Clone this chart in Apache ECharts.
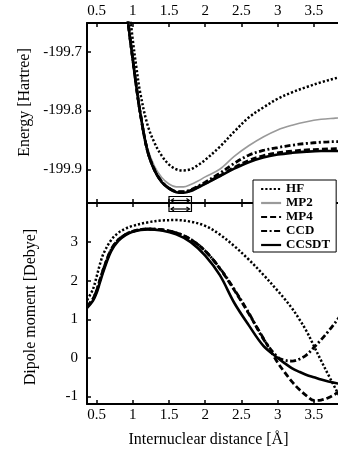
<!DOCTYPE html>
<html><head><meta charset="utf-8">
<script src="https://cdn.jsdelivr.net/npm/echarts@6/dist/echarts.min.js"></script>
<style>html,body{margin:0;padding:0;background:#fff}#c{width:338px;height:449px}</style>
</head><body><div id="c"></div>
<script>
// ---- data ----
var seriesNames = ['HF', 'MP2', 'MP4', 'CCD', 'CCSDT'];
var xTicks = [0.5, 1, 1.5, 2, 2.5, 3, 3.5];
var energyTicks = [-199.9, -199.8, -199.7];
var dipoleTicks = [-1, 0, 1, 2, 3];

var xEnergy = [0.9, 0.95, 1.0, 1.05, 1.1, 1.2, 1.3, 1.4, 1.5, 1.6, 1.7, 1.8, 1.9, 2.0, 2.2, 2.4, 2.6, 2.8, 3.0, 3.2, 3.4, 3.6, 3.8, 3.9];
var eHF    = [-199.575, -199.625, -199.680, -199.727, -199.768, -199.823, -199.855, -199.877, -199.892, -199.900, -199.902, -199.900, -199.893, -199.884, -199.862, -199.836, -199.812, -199.795, -199.780, -199.769, -199.760, -199.752, -199.745, -199.742];
var eMP2   = [-199.605, -199.660, -199.709, -199.756, -199.798, -199.862, -199.895, -199.914, -199.925, -199.930, -199.930, -199.926, -199.920, -199.913, -199.900, -199.878, -199.860, -199.845, -199.833, -199.825, -199.819, -199.815, -199.813, -199.812];
var eMP4   = [-199.610, -199.665, -199.713, -199.760, -199.802, -199.867, -199.901, -199.921, -199.932, -199.938, -199.939, -199.936, -199.930, -199.924, -199.911, -199.897, -199.885, -199.877, -199.872, -199.869, -199.867, -199.866, -199.865, -199.865];
var eCCD   = [-199.610, -199.665, -199.713, -199.760, -199.802, -199.867, -199.901, -199.921, -199.932, -199.938, -199.938, -199.935, -199.929, -199.922, -199.907, -199.890, -199.876, -199.868, -199.863, -199.859, -199.856, -199.854, -199.853, -199.853];
var eCCSDT = [-199.610, -199.665, -199.713, -199.760, -199.802, -199.868, -199.902, -199.922, -199.933, -199.939, -199.940, -199.937, -199.931, -199.925, -199.912, -199.899, -199.888, -199.880, -199.875, -199.872, -199.870, -199.869, -199.869, -199.869];

var xDipole = [0.37, 0.45, 0.5, 0.55, 0.6, 0.7, 0.8, 0.9, 1.0, 1.2, 1.4, 1.6, 1.8, 2.0, 2.2, 2.4, 2.6, 2.8, 3.0, 3.1, 3.2, 3.3, 3.4, 3.5, 3.6, 3.7, 3.8, 3.9];
var dHF    = [1.50, 1.78, 2.10, 2.45, 2.72, 3.05, 3.24, 3.35, 3.42, 3.51, 3.56, 3.57, 3.53, 3.42, 3.20, 2.90, 2.55, 2.16, 1.74, 1.52, 1.28, 1.00, 0.69, 0.31, -0.07, -0.44, -0.80, -1.15];
var dMP4   = [1.33, 1.53, 1.74, 2.04, 2.33, 2.80, 3.06, 3.20, 3.28, 3.34, 3.32, 3.24, 3.07, 2.77, 2.32, 1.76, 1.15, 0.52, -0.12, -0.38, -0.62, -0.82, -0.98, -1.10, -1.09, -1.03, -0.93, -0.82];
var dCCD   = [1.33, 1.53, 1.74, 2.04, 2.33, 2.80, 3.06, 3.20, 3.28, 3.34, 3.32, 3.24, 3.07, 2.77, 2.33, 1.78, 1.17, 0.50, 0.02, -0.06, -0.08, -0.03, 0.08, 0.27, 0.47, 0.69, 0.93, 1.18];
var dCCSDT = [1.30, 1.48, 1.68, 1.98, 2.27, 2.76, 3.03, 3.18, 3.27, 3.33, 3.30, 3.20, 3.00, 2.65, 2.15, 1.43, 0.85, 0.32, 0.00, -0.14, -0.27, -0.36, -0.44, -0.50, -0.56, -0.61, -0.65, -0.68];

var eqRange = [1.5, 1.81];

// ---- chart ----
var FONT = '"Liberation Serif","DejaVu Serif",serif';
var xMin = 0.368, xMax = 3.833;
var eMin = -199.9574, eMax = -199.6511;
var dMin = -1.193, dMax = 4.013;

function pairs(xs, ys) { return xs.map(function (x, i) { return [x, ys[i]]; }); }

function xAxisCfg(gridIndex, position, showLabels, extra) {
  var a = {
    type: 'value', gridIndex: gridIndex, position: position, min: xMin, max: xMax,
    axisLine: { show: true, onZero: false, lineStyle: { color: '#000', width: 2 } },
    axisTick: { show: true, inside: true, length: 4, customValues: xTicks, lineStyle: { color: '#000', width: 1.5 } },
    axisLabel: { show: showLabels, customValues: xTicks, color: '#000', fontFamily: FONT, fontSize: 15, margin: 4 },
    splitLine: { show: false }
  };
  for (var k in extra) a[k] = extra[k];
  return a;
}

var styles = {
  HF:    { color: '#000', width: 2.5, type: [2.2, 2.0] },
  MP2:   { color: '#9a9a9a', width: 1.6, type: 'solid' },
  MP4:   { color: '#000', width: 2.8, type: [6, 3] },
  CCD:   { color: '#000', width: 2.8, type: [6, 2.5, 2, 2.5] },
  CCSDT: { color: '#000', width: 2.6, type: 'solid' }
};

function lineSeries(name, data, gi) {
  var s = styles[name];
  return {
    name: name, type: 'line', xAxisIndex: gi === 0 ? 0 : 2, yAxisIndex: gi,
    data: data, smooth: 0.35, symbol: 'none', showSymbol: false, clip: true,
    lineStyle: { color: s.color, width: s.width, type: s.type },
    itemStyle: { color: s.color },
    z: name === 'MP2' ? 2 : 3
  };
}

var chart = echarts.init(document.getElementById('c'), null, { renderer: 'canvas' });
var option = {
  animation: false,
  backgroundColor: '#fff',
  grid: [
    { left: 87, top: 23, width: 254, height: 180 },
    { left: 87, top: 203, width: 254, height: 202 }
  ],
  xAxis: [
    xAxisCfg(0, 'top', true, {}),
    xAxisCfg(0, 'bottom', false, {}),
    xAxisCfg(1, 'bottom', true, { name: 'Internuclear distance [Å]', nameLocation: 'middle', nameGap: 28,
      nameTextStyle: { color: '#000', fontFamily: FONT, fontSize: 16, padding: [0, 8, 0, 0] } }),
    xAxisCfg(1, 'top', false, {})
  ],
  yAxis: [
    {
      type: 'value', gridIndex: 0, min: eMin, max: eMax,
      name: 'Energy [Hartree]', nameLocation: 'middle', nameGap: 48,
      nameTextStyle: { color: '#000', fontFamily: FONT, fontSize: 16, padding: [0, 0, 0, 21] },
      axisLine: { show: true, onZero: false, lineStyle: { color: '#000', width: 2 } },
      axisTick: { show: true, inside: true, length: 4, customValues: energyTicks, lineStyle: { color: '#000', width: 1.5 } },
      axisLabel: { customValues: energyTicks, color: '#000', fontFamily: FONT, fontSize: 15, margin: 5,
        formatter: function (v) { return v.toFixed(1); } },
      splitLine: { show: false }
    },
    {
      type: 'value', gridIndex: 1, min: dMin, max: dMax,
      name: 'Dipole moment [Debye]', nameLocation: 'middle', nameGap: 48,
      nameTextStyle: { color: '#000', fontFamily: FONT, fontSize: 16, padding: [0, 7, 0, 0] },
      axisLine: { show: true, onZero: false, lineStyle: { color: '#000', width: 2 } },
      axisTick: { show: true, inside: true, length: 4, customValues: dipoleTicks, lineStyle: { color: '#000', width: 1.5 } },
      axisLabel: { customValues: dipoleTicks, color: '#000', fontFamily: FONT, fontSize: 15, margin: 9 },
      splitLine: { show: false }
    }
  ],
  legend: {
    data: seriesNames, orient: 'vertical', left: 253, top: 180,
    itemWidth: 20, itemHeight: 14, itemGap: 0, padding: [2, 6, 0, 7],
    backgroundColor: '#fff', borderColor: '#000', borderWidth: 1, borderRadius: 0,
    selectedMode: false,
    itemStyle: { opacity: 0, borderWidth: 0 },
    lineStyle: { width: 2.2 },
    textStyle: { color: '#000', fontFamily: FONT, fontSize: 13, fontWeight: 'bold', lineHeight: 14, padding: [0, 0, 0, 0] },
    z: 10
  },
  series: [
    lineSeries('HF', pairs(xEnergy, eHF), 0),
    lineSeries('MP2', pairs(xEnergy, eMP2), 0),
    lineSeries('MP4', pairs(xEnergy, eMP4), 0),
    lineSeries('CCD', pairs(xEnergy, eCCD), 0),
    lineSeries('CCSDT', pairs(xEnergy, eCCSDT), 0),
    lineSeries('HF', pairs(xDipole, dHF), 1),
    lineSeries('MP4', pairs(xDipole, dMP4), 1),
    lineSeries('CCD', pairs(xDipole, dCCD), 1),
    lineSeries('CCSDT', pairs(xDipole, dCCSDT), 1),
    {
      type: 'custom', xAxisIndex: 0, yAxisIndex: 0, clip: false, z: 5,
      data: [[eqRange[0], eqRange[1]]],
      renderItem: function (params, api) {
        var p1 = api.coord([api.value(0), eMin]);
        var p2 = api.coord([api.value(1), eMin]);
        var x1 = p1[0], x2 = p2[0], y = p1[1];
        var st = { stroke: '#000', lineWidth: 1.2, fill: null };
        var children = [
          { type: 'rect', shape: { x: x1, y: y - 6.5, width: x2 - x1, height: 15 }, style: { stroke: '#000', lineWidth: 1.2, fill: null } }
        ];
        [y - 2.5, y + 6].forEach(function (yy) {
          children.push({ type: 'line', shape: { x1: x1 + 2, y1: yy, x2: x2 - 2, y2: yy }, style: st });
          children.push({ type: 'polyline', shape: { points: [[x1 + 5, yy - 2], [x1 + 2, yy], [x1 + 5, yy + 2]] }, style: st });
          children.push({ type: 'polyline', shape: { points: [[x2 - 5, yy - 2], [x2 - 2, yy], [x2 - 5, yy + 2]] }, style: st });
        });
        return { type: 'group', children: children };
      }
    }
  ]
};
chart.setOption(option);
</script></body></html>
